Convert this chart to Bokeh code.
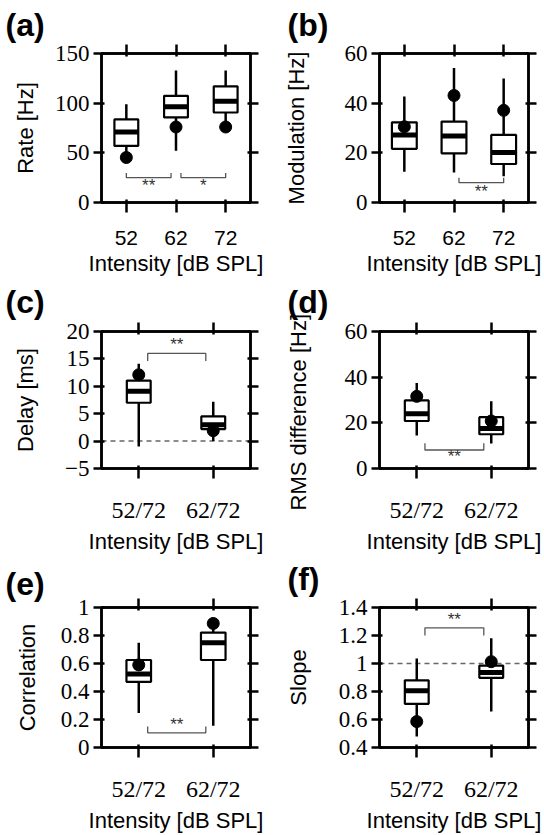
from bokeh.plotting import figure
from bokeh.layouts import gridplot
from bokeh.models import LinearAxis, FixedTicker, Range1d, Span
from bokeh.core.properties import value
from bokeh.embed import file_html
from bokeh.resources import INLINE

SANS = "Liberation Sans"
SERIF = "Liberation Serif"
NB = "\u00a0"

# ---------------- data ----------------
# (a) Rate
a_cats = ["52", "62", "72"]
a_low = [50, 52, 80]
a_q1 = [57, 85.6, 90.6]
a_med = [71, 96.3, 102]
a_q3 = [83.6, 107.4, 117]
a_high = [99, 133, 133]
a_dot = [45.3, 76, 76]
a_yticks = [0, 50, 100, 150]
a_ylabels = ["0", "50", "100", "150"]
a_br_x0 = [1.0, 2.1]
a_br_x1 = [1.9, 3.0]
a_br_y = [25, 25]
a_br_h = [4.7, 4.7]
a_star_y = [17.5, 17.5]
a_stars = ["**", "*"]

# (b) Modulation
b_cats = ["52", "62", "72"]
b_low = [12.4, 12.1, 10.6]
b_q1 = [21.6, 19.8, 15.5]
b_med = [27.2, 26.8, 20.1]
b_q3 = [32.3, 32.6, 27.2]
b_high = [42.7, 54.2, 49.9]
b_dot = [30.5, 43.1, 37.1]
b_yticks = [0, 20, 40, 60]
b_ylabels = ["0", "20", "40", "60"]
b_br_x0 = [2.1]
b_br_x1 = [3.0]
b_br_y = [8]
b_br_h = [2]
b_star_y = [4.3]
b_stars = ["**"]

# (c) Delay
c_cats = ["52/72", "62/72"]
c_low = [-1.0, 0.0]
c_q1 = [7.0, 2.2]
c_med = [9.1, 3.0]
c_q3 = [11.05, 4.5]
c_high = [14.1, 7.2]
c_dot = [12.1, 1.9]
c_yticks = [-5, 0, 5, 10, 15, 20]
c_ylabels = ["\u22125", "0", "5", "10", "15", "20"]
c_br_x0 = [1.12]
c_br_x1 = [1.9]
c_br_y = [16]
c_br_h = [-1.4]
c_star_y = [17.7]
c_stars = ["**"]
c_ref = 0

# (d) RMS difference
d_cats = ["52/72", "62/72"]
d_low = [14.5, 10.9]
d_q1 = [20.8, 15.0]
d_med = [24.0, 17.5]
d_q3 = [29.8, 22.5]
d_high = [37.5, 29.4]
d_dot = [31.6, 20.8]
d_yticks = [0, 20, 40, 60]
d_ylabels = ["0", "20", "40", "60"]
d_br_x0 = [1.11]
d_br_x1 = [1.9]
d_br_y = [8.1]
d_br_h = [3.0]
d_star_y = [5.1]
d_stars = ["**"]

# (e) Correlation
e_cats = ["52/72", "62/72"]
e_low = [0.246, 0.156]
e_q1 = [0.469, 0.625]
e_med = [0.525, 0.748]
e_q3 = [0.625, 0.821]
e_high = [0.748, 0.85]
e_dot = [0.59, 0.886]
e_yticks = [0, 0.2, 0.4, 0.6, 0.8, 1]
e_ylabels = ["0", "0.2", "0.4", "0.6", "0.8", "1"]
e_br_x0 = [1.12]
e_br_x1 = [1.9]
e_br_y = [0.105]
e_br_h = [0.045]
e_star_y = [0.167]
e_stars = ["**"]

# (f) Slope
f_cats = ["52/72", "62/72"]
f_low = [0.478, 0.657]
f_q1 = [0.712, 0.898]
f_med = [0.806, 0.935]
f_q3 = [0.88, 0.985]
f_high = [1.036, 1.18]
f_dot = [0.585, 1.013]
f_yticks = [0.4, 0.6, 0.8, 1.0, 1.2, 1.4]
f_ylabels = ["0.4", "0.6", "0.8", "1", "1.2", "1.4"]
f_br_x0 = [1.11]
f_br_x1 = [1.9]
f_br_y = [1.255]
f_br_h = [-0.055]
f_star_y = [1.315]
f_stars = ["**"]
f_ref = 1


def style_ticks(ax, out):
    ax.major_tick_out = out
    ax.major_tick_in = 3
    ax.major_tick_line_width = 2.5
    ax.major_tick_line_color = "black"
    ax.minor_tick_line_color = None
    ax.axis_line_color = "black"
    ax.axis_line_width = 2.5


def make_panel(letter, cats, low, q1, med, q3, high, dot, yr, yticks, ylabels, ylabel,
               br_x0, br_x1, br_y, br_h, star_y, stars,
               xfont, xfont_size, box_w, size, borders, t_offset, t_standoff, yl_standoff,
               ref=None):
    n = len(cats)
    xs = list(range(1, n + 1))
    w, h = size
    bl, br, bt, bb = borders
    p = figure(width=w, height=h, x_range=Range1d(0.5, n + 0.5), y_range=Range1d(*yr),
               toolbar_location=None, output_backend="svg",
               min_border_left=bl, min_border_right=br, min_border_top=bt, min_border_bottom=bb)
    p.xgrid.visible = False
    p.ygrid.visible = False
    p.outline_line_color = "black"
    p.outline_line_width = 2.5
    p.outline_line_alpha = 1.0
    p.background_fill_color = "white"
    p.border_fill_color = "white"

    # panel letter
    p.title.text = letter
    p.title.align = "left"
    p.title.offset = t_offset
    p.title.standoff = t_standoff
    p.title.text_font = SANS
    p.title.text_font_size = "32px"
    p.title.text_font_style = "bold"
    p.title.text_color = "black"

    # bottom axis
    xa = p.xaxis[0]
    xa.ticker = FixedTicker(ticks=xs)
    xa.major_label_overrides = {x: c for x, c in zip(xs, cats)}
    xa.major_label_text_font = xfont
    xa.major_label_text_font_size = xfont_size
    xa.major_label_text_color = "black"
    xa.major_label_standoff = 18
    style_ticks(xa, 10)
    xa.axis_label = "Intensity [dB SPL]"
    xa.axis_label_text_font = SANS
    xa.axis_label_text_font_size = "22px"
    xa.axis_label_text_font_style = "normal"
    xa.axis_label_text_color = "black"
    xa.axis_label_standoff = 3

    # left axis
    ya = p.yaxis[0]
    ya.ticker = FixedTicker(ticks=yticks)
    ya.major_label_overrides = {t: s for t, s in zip(yticks, ylabels)}
    ya.major_label_text_font = SERIF
    ya.major_label_text_font_size = "23px"
    ya.major_label_text_color = "black"
    ya.major_label_standoff = 4
    style_ticks(ya, 8)
    ya.axis_label = ylabel
    ya.axis_label_text_font = SANS
    ya.axis_label_text_font_size = "22px"
    ya.axis_label_text_font_style = "normal"
    ya.axis_label_text_color = "black"
    ya.axis_label_standoff = yl_standoff

    # top & right tick-only axes
    top = LinearAxis(ticker=FixedTicker(ticks=xs), major_label_overrides={x: "" for x in xs},
                     major_label_text_font_size="1px", major_label_standoff=0)
    style_ticks(top, 9)
    p.add_layout(top, "above")
    right = LinearAxis(ticker=FixedTicker(ticks=yticks), major_label_overrides={t: "" for t in yticks},
                       major_label_text_font_size="1px", major_label_standoff=0)
    style_ticks(right, 8)
    p.add_layout(right, "right")

    if ref is not None:
        p.add_layout(Span(location=ref, dimension="width", line_color="#666666",
                          line_width=1.5, line_dash="5 4", level="underlay"))

    # whiskers
    p.segment(x0=xs, y0=low, x1=xs, y1=q1, line_color="black", line_width=2.5)
    p.segment(x0=xs, y0=q3, x1=xs, y1=high, line_color="black", line_width=2.5)
    # boxes
    p.vbar(x=xs, width=box_w, bottom=q1, top=q3, fill_color="white",
           line_color="black", line_width=2.2)
    # medians
    p.segment(x0=[x - box_w / 2 for x in xs], y0=med, x1=[x + box_w / 2 for x in xs], y1=med,
              line_color="black", line_width=5, line_cap="butt")
    # dots
    p.scatter(x=xs, y=dot, size=12, color="black")

    # significance brackets
    bx, by = [], []
    for x0, x1, y, hh in zip(br_x0, br_x1, br_y, br_h):
        bx.append([x0, x0, x1, x1])
        by.append([y + hh, y, y, y + hh])
    p.multi_line(xs=bx, ys=by, line_color="#555555", line_width=1.3)
    p.text(x=[(a + b) / 2 for a, b in zip(br_x0, br_x1)], y=star_y, text=stars,
           text_align="center", text_baseline="middle", text_font=value(SANS),
           text_font_size="17px", text_color="#333333")
    return p


C1 = (101, 22)
C2 = (107, 16)
R1 = (53, 77, 279)
R2 = (52, 76, 277)
R3 = (51, 78, 279)

pa = make_panel("(a)", a_cats, a_low, a_q1, a_med, a_q3, a_high, a_dot, (0, 150), a_yticks, a_ylabels,
                "Rate [Hz]", a_br_x0, a_br_x1, a_br_y, a_br_h, a_star_y, a_stars,
                SANS, "21px", 0.48, (272, R1[2]), (C1[0], C1[1], R1[0], R1[1]), -96, 4, 14)
pb = make_panel("(b)", b_cats, b_low, b_q1, b_med, b_q3, b_high, b_dot, (0, 60), b_yticks, b_ylabels,
                "Modulation [Hz]", b_br_x0, b_br_x1, b_br_y, b_br_h, b_star_y, b_stars,
                SANS, "21px", 0.5, (272, R1[2]), (C2[0], C2[1], R1[0], R1[1]), -92, 4, 33)
pc = make_panel("(c)", c_cats, c_low, c_q1, c_med, c_q3, c_high, c_dot, (-5, 20), c_yticks, c_ylabels,
                "Delay [ms]", c_br_x0, c_br_x1, c_br_y, c_br_h, c_star_y, c_stars,
                SERIF, "24px", 0.32, (272, R2[2]), (C1[0], C1[1], R2[0], R2[1]), -96, 5, 24, ref=c_ref)
pd_ = make_panel("(d)", d_cats, d_low, d_q1, d_med, d_q3, d_high, d_dot, (0, 60), d_yticks, d_ylabels,
                 "RMS difference [Hz]" + NB * 4, d_br_x0, d_br_x1, d_br_y, d_br_h, d_star_y, d_stars,
                 SERIF, "24px", 0.32, (272, R2[2]), (C2[0], C2[1], R2[0], R2[1]), -92, 5, 31)
pe = make_panel("(e)", e_cats, e_low, e_q1, e_med, e_q3, e_high, e_dot, (0, 1), e_yticks, e_ylabels,
                "Correlation", e_br_x0, e_br_x1, e_br_y, e_br_h, e_star_y, e_stars,
                SERIF, "24px", 0.33, (272, R3[2]), (C1[0], C1[1], R3[0], R3[1]), -96, -6, 18)
pf = make_panel("(f)", f_cats, f_low, f_q1, f_med, f_q3, f_high, f_dot, (0.4, 1.4), f_yticks, f_ylabels,
                "Slope", f_br_x0, f_br_x1, f_br_y, f_br_h, f_star_y, f_stars,
                SERIF, "24px", 0.32, (272, R3[2]), (C2[0], C2[1], R3[0], R3[1]), -92, 3, 25, ref=f_ref)

grid = gridplot([[pa, pb], [pc, pd_], [pe, pf]], toolbar_location=None)

open("out.html", "w").write(file_html(grid, INLINE))
